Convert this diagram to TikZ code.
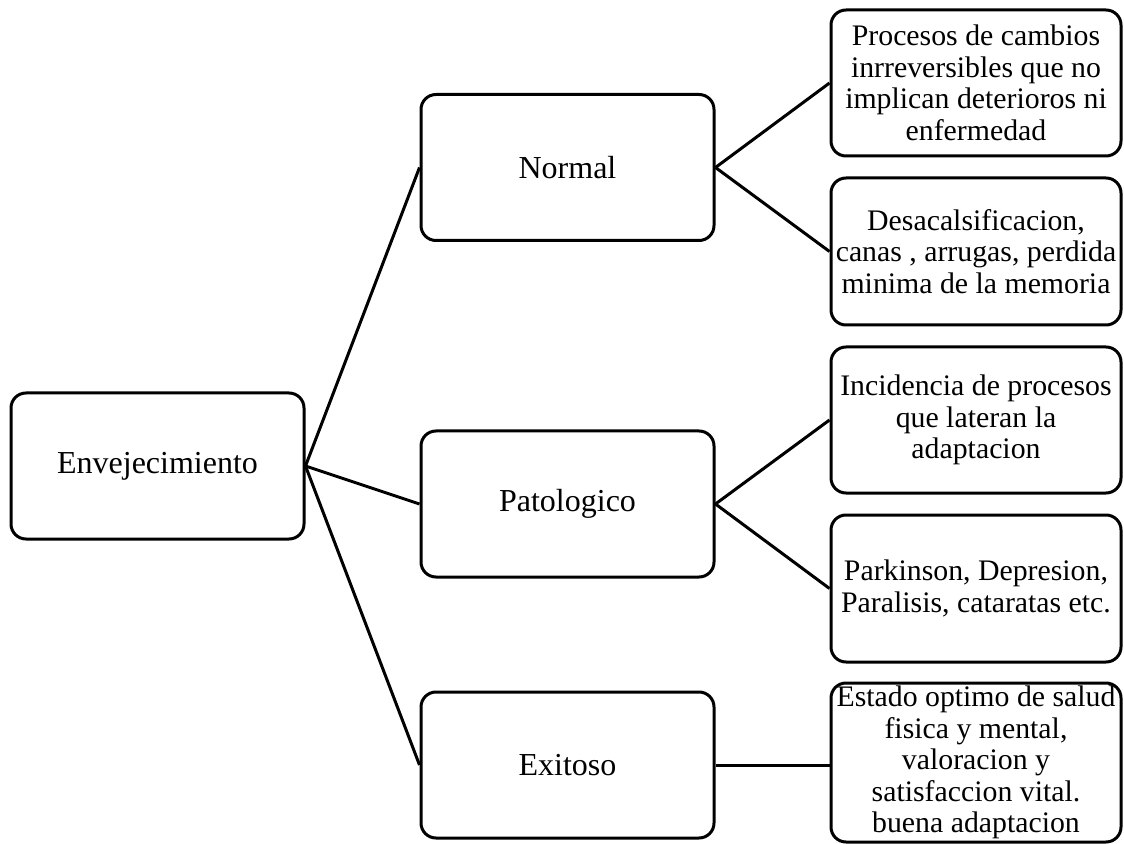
\documentclass[tikz,border=0pt]{standalone}
\usepackage{fontspec}
\setmainfont{Liberation Serif}
\begin{document}
\begin{tikzpicture}[x=0.5pt,y=-0.5pt,
  box/.style={draw, line width=1.5pt, rounded corners=7.5pt, align=center, inner sep=0pt},
  mainbox/.style={box, minimum width=146.5pt, minimum height=73pt,
    font=\fontsize{16}{18}\selectfont},
  leafbox/.style={box, minimum width=145pt, minimum height=73pt,
    font=\fontsize{14.9}{15.8}\selectfont},
  link/.style={line width=1.5pt}]
\useasboundingbox (0,0) rectangle (1124,844);

% root and the three kinds of ageing
\node[mainbox] (env) at (157.5,466) {Envejecimiento};
\node[mainbox] (nor) at (567.5,167.5) {Normal};
\node[mainbox] (pat) at (567.5,504) {Patologico};
\node[mainbox] (exi) at (567.5,765) {Exitoso};

% descriptions
\node[leafbox] (n1) at (976,83) {Procesos de cambios\\inrreversibles que no\\implican deterioros ni\\enfermedad};
\node[leafbox, minimum height=73.5pt] (n2) at (976,251.5) {Desacalsificacion,\\canas , arrugas, perdida\\minima de la memoria};
\node[leafbox] (p1) at (976,420) {Incidencia de procesos\\que lateran la\\adaptacion};
\node[leafbox, minimum height=73.5pt] (p2) at (976,588.5) {Parkinson, Depresion,\\Paralisis, cataratas etc.};
\node[leafbox, minimum height=79.5pt] (e1) at (976,762.5) {Estado optimo de salud\\fisica y mental,\\valoracion y\\satisfaccion vital.\\buena adaptacion};

% connectors
\draw[link] (env.east) -- (nor.west);
\draw[link] (env.east) -- (pat.west);
\draw[link] (env.east) -- (exi.west);
\draw[link] (nor.east) -- (n1.west);
\draw[link] (nor.east) -- (n2.west);
\draw[link] (pat.east) -- (p1.west);
\draw[link] (pat.east) -- (p2.west);
\draw[link] (exi.east) -- (exi.east -| e1.west);
\end{tikzpicture}
\end{document}
